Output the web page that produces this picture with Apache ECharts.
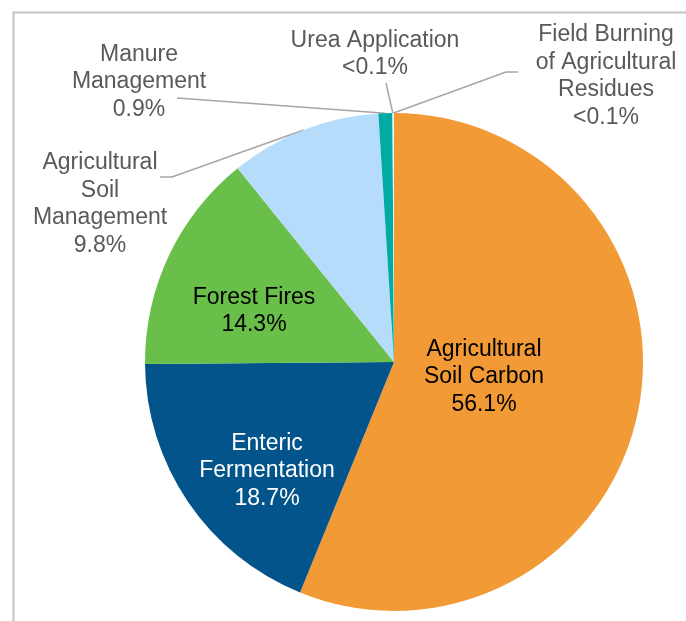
<!DOCTYPE html>
<html>
<head>
<meta charset="utf-8">
<script src="https://cdn.jsdelivr.net/npm/echarts@6/dist/echarts.min.js"></script>
<style>
  html, body { margin: 0; padding: 0; background: #fff; }
  #chart { width: 686px; height: 621px; }
</style>
</head>
<body>
<div id="chart"></div>
<script>
// categories in drawing order (clockwise from 12 o'clock)
var categories = [
  'Agricultural\nSoil Carbon',
  'Enteric\nFermentation',
  'Forest Fires',
  'Agricultural\nSoil\nManagement',
  'Manure\nManagement',
  'Urea Application',
  'Field Burning\nof Agricultural\nResidues'
];
var shares = [56.1, 18.7, 14.3, 9.8, 0.9, 0.05, 0.05];
var colors = ['#f29a36', '#02548a', '#6abf4b', '#b5dcfa', '#00aba6', '#d4eeec', '#e8f4f3'];
var labelColors = ['#000', '#fff', '#000', '#595959', '#595959', '#595959', '#595959'];
var inside = [true, true, true, false, false, false, false];

// label centres and leader-line bends (layout only)
var labelPos = [[484, 377], [267, 471], [254, 311], [100, 204], [139, 82], [375, 54], [606, 76]];
var lineBend = [null, null, null, [[172, 177], [160, 177]], [[177, 98]], [[386, 83]], [[506, 72], [518, 72]]];

function pctText(v) {
  return v < 0.1 ? '<0.1%' : v.toFixed(1) + '%';
}

var chart = echarts.init(document.getElementById('chart'));

var data = categories.map(function (name, i) {
  return {
    name: name,
    value: shares[i],
    itemStyle: { color: colors[i] },
    label: {
      position: inside[i] ? 'inside' : 'outside',
      color: labelColors[i]
    },
    labelLine: { show: !inside[i] }
  };
});

chart.setOption({
  animation: false,
  graphic: [{
    type: 'rect',
    left: 11,
    top: 10,
    shape: { width: 720, height: 660 },
    style: { fill: 'none', stroke: '#c3c3c3', lineWidth: 2 },
    silent: true
  }],
  series: [{
    type: 'pie',
    center: [394, 362],
    radius: 249,
    startAngle: 90,
    clockwise: true,
    avoidLabelOverlap: false,
    minShowLabelAngle: 0,
    label: {
      show: true,
      fontFamily: 'Liberation Sans, Arial, sans-serif',
      fontSize: 23,
      lineHeight: 27.5,
      align: 'center',
      formatter: function (p) {
        return p.name + '\n' + pctText(p.value);
      }
    },
    labelLine: {
      length: 10,
      length2: 10,
      lineStyle: { color: '#a6a6a6', width: 1.5 }
    },
    labelLayout: function (params) {
      var i = params.dataIndex;
      var pos = labelPos[i];
      var out = { x: pos[0], y: pos[1], align: 'center', verticalAlign: 'middle', hideOverlap: false };
      if (lineBend[i] && params.labelLinePoints) {
        out.labelLinePoints = [params.labelLinePoints[0]].concat(lineBend[i]);
      }
      return out;
    },
    emphasis: { disabled: true },
    data: data
  }]
});
</script>
</body>
</html>
